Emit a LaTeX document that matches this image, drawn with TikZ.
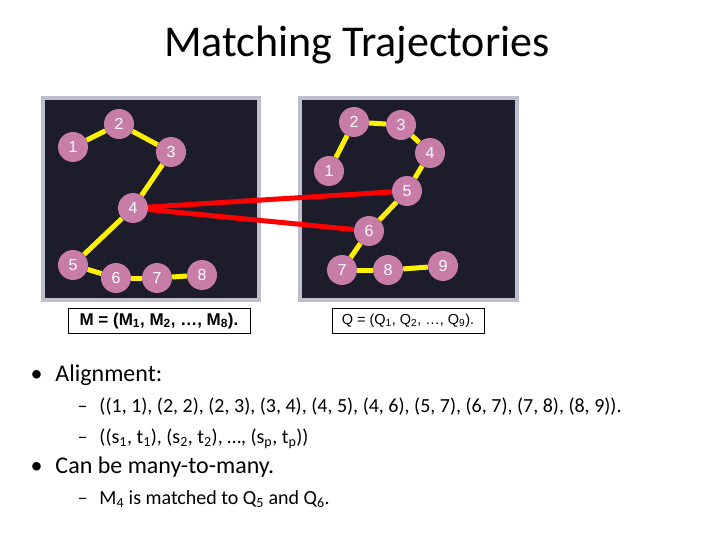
\documentclass[tikz,border=0pt]{standalone}
\usepackage{fontspec}
\setmainfont{Carlito}
\newfontfamily\arialfont{Liberation Sans}

\definecolor{panelbg}{RGB}{28,28,42}
\definecolor{panelrim}{RGB}{190,190,206}
\definecolor{dotpink}{RGB}{200,124,168}

\tikzset{
  panel/.style={draw=panelrim,line width=3.5pt,fill=panelbg},
  pt/.style={circle,fill=dotpink,minimum size=30pt,inner sep=0pt,
    text=white,font=\arialfont\fontsize{16}{16}\selectfont},
  track/.style={yellow,line width=5pt},
  match/.style={red,line width=5pt},
  seqbox/.style={draw,thin,minimum height=25pt,inner sep=2pt,
    font=\arialfont\fontsize{14.5}{15}\selectfont},
  lvl1/.style={anchor=base west,font=\fontsize{24}{24}\selectfont},
  lvl2/.style={anchor=base west,font=\fontsize{20}{20}\selectfont}
}

\begin{document}
\begin{tikzpicture}[x=1pt,y=-1pt]
      \useasboundingbox (0,0) rectangle (720,540);
      \node [font=\fontsize{44}{44}\selectfont] (title) at (357,45) {Matching Trajectories};

      \draw [panel] (43,98) rectangle (259,300);
      \draw [panel] (300,98) rectangle (517,300);

      \node [pt] (M1) at (73,147) {1};
      \node [pt] (M2) at (119,124) {2};
      \node [pt] (M3) at (171,152) {3};
      \node [pt] (M4) at (133,208) {4};
      \node [pt] (M5) at (73,265) {5};
      \node [pt] (M6) at (116,278) {6};
      \node [pt] (M7) at (157,278) {7};
      \node [pt] (M8) at (202,275) {8};

      \node [pt] (Q1) at (329,171) {1};
      \node [pt] (Q2) at (354,122) {2};
      \node [pt] (Q3) at (401,125) {3};
      \node [pt] (Q4) at (430,153) {4};
      \node [pt] (Q5) at (407,191) {5};
      \node [pt] (Q6) at (369,231) {6};
      \node [pt] (Q7) at (342,270) {7};
      \node [pt] (Q8) at (388,270) {8};
      \node [pt] (Q9) at (443,266) {9};

      \foreach \from/\to in {M1/M2,M2/M3,M3/M4,M4/M5,M5/M6,M6/M7,M7/M8,
                             Q1/Q2,Q2/Q3,Q3/Q4,Q4/Q5,Q5/Q6,Q6/Q7,Q7/Q8,Q8/Q9}
        \draw [track] (\from) -- (\to);
      \foreach \to in {Q5,Q6}
        \draw [match] (M4) -- (\to);

      \node [seqbox,minimum width=182pt,font=\arialfont\bfseries\fontsize{17}{17}\selectfont] (mseq) at (159,321)
        {M = (M\textsubscript{1}, M\textsubscript{2}, \dots, M\textsubscript{8}).};
      \node [seqbox,minimum width=152pt] (qseq) at (408,321)
        {Q = (Q\textsubscript{1}, Q\textsubscript{2}, \dots, Q\textsubscript{9}).};

      \node [lvl1] (b1) at (27,381) {\textbullet\hspace{13pt}Alignment:};
      \node [lvl2] (s1) at (74,412) {--\hspace{12pt}((1, 1), (2, 2), (2, 3), (3, 4), (4, 5), (4, 6), (5, 7), (6, 7), (7, 8), (8, 9)).};
      \node [lvl2] (s2) at (74,443) {--\hspace{12pt}((s\textsubscript{1}, t\textsubscript{1}), (s\textsubscript{2}, t\textsubscript{2}), \dots, (s\textsubscript{p}, t\textsubscript{p}))};
      \node [lvl1] (b2) at (27,473) {\textbullet\hspace{13pt}Can be many-to-many.};
      \node [lvl2] (s3) at (74,504) {--\hspace{12pt}M\textsubscript{4} is matched to Q\textsubscript{5} and Q\textsubscript{6}.};
    \end{tikzpicture}
\end{document}
